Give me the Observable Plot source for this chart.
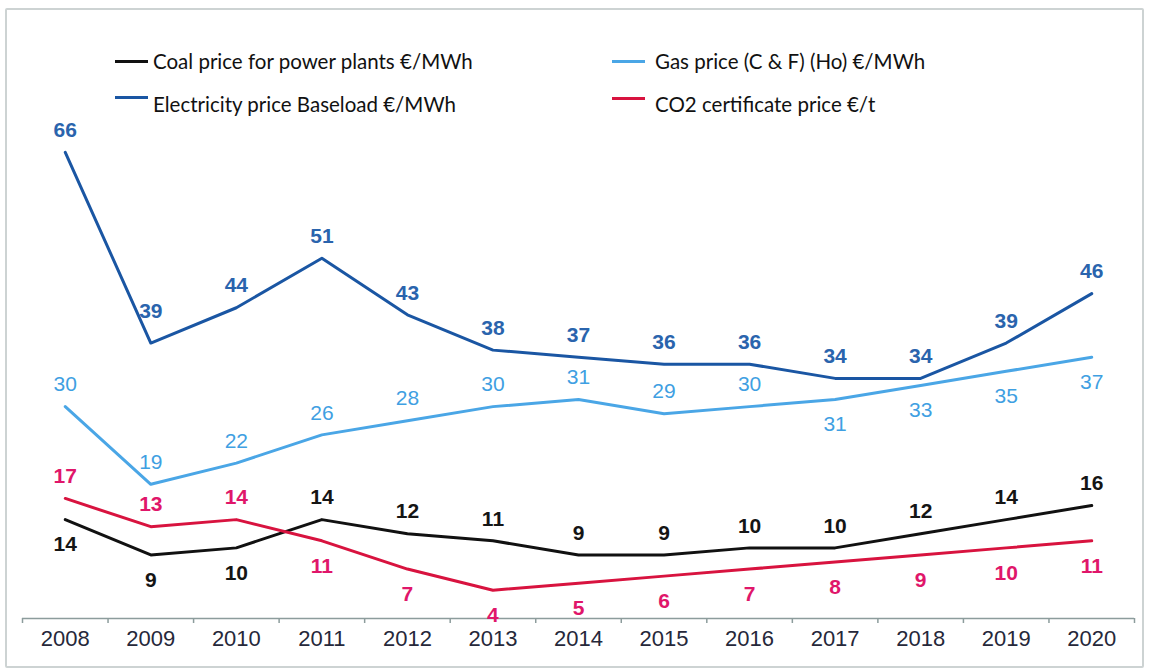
<!DOCTYPE html>
<html>
<head>
<meta charset="utf-8">
<script src="https://cdn.jsdelivr.net/npm/d3@7"></script>
<script src="https://cdn.jsdelivr.net/npm/@observablehq/plot@0.6"></script>
<style>
  html, body { margin: 0; padding: 0; background: #fff; }
  #wrap { position: relative; width: 1171px; height: 670px; overflow: hidden; }
  #frame { position: absolute; left: 5px; top: 8px; width: 1135px; height: 656px;
           border: 2px solid #cdd3d3; border-radius: 2px; box-sizing: content-box; }
  #chart { position: absolute; left: 0; top: 0; }
  .leg { position: absolute; font-family: Lato, "Open Sans", sans-serif; font-size: 20.5px; color: #111;
         white-space: nowrap; line-height: 1; }
  .sw { position: absolute; width: 33px; height: 3px; }
</style>
</head>
<body>
<div id="wrap">
  <div id="frame"></div>
  <div id="chart"></div>
  <div id="legend"></div>
</div>
<script>
const years = [2008, 2009, 2010, 2011, 2012, 2013, 2014, 2015, 2016, 2017, 2018, 2019, 2020];
const seriesNames = [
  "Coal price for power plants €/MWh",
  "Electricity price Baseload €/MWh",
  "Gas price (C & F) (Ho) €/MWh",
  "CO2 certificate price €/t"
];
const coal        = [14, 9, 10, 14, 12, 11, 9, 9, 10, 10, 12, 14, 16];
const electricity = [66, 39, 44, 51, 43, 38, 37, 36, 36, 34, 34, 39, 46];
const gas         = [30, 19, 22, 26, 28, 30, 31, 29, 30, 31, 33, 35, 37];
const co2         = [17, 13, 14, 11, 7, 4, 5, 6, 7, 8, 9, 10, 11];
const lineColors  = ["#111111", "#1a56a3", "#4aa6e6", "#d8133f"];
const labelColors = ["#151515", "#2a64ad", "#3f9fe2", "#e0166a"];
const labelWeights = ["bold", "bold", "normal", "bold"];

const valuesBySeries = [coal, electricity, gas, co2];
const rows = [];
seriesNames.forEach((s, si) => {
  const vals = valuesBySeries[si];
  vals.forEach((v, i) => rows.push({
    series: s, si, year: years[i], value: v,
    vee: i > 0 && i < vals.length - 1 && vals[i - 1] - v > 4 && vals[i + 1] - v > 4
  }));
});

// label placement rule (above/below line)
const isBelow = d =>
  (d.si === 0 && d.year <= 2010) ||
  (d.si === 3 && d.year >= 2011) ||
  (d.si === 2 && d.year >= 2017);

const boundaries = years.map(y => y - 0.5).concat([years[years.length - 1] + 0.5]);

const labelFont = "Liberation Sans, Arial, sans-serif";
const labelMarks = [];
[0, 1, 2, 3].forEach(si => {
  const sub = rows.filter(d => d.si === si);
  const common = {x: "year", y: "value", text: d => String(d.value),
    fill: labelColors[si], fontSize: 21, fontWeight: labelWeights[si], fontFamily: labelFont};
  labelMarks.push(Plot.text(sub.filter(d => !isBelow(d) && !d.vee), {...common, dy: -22}));
  labelMarks.push(Plot.text(sub.filter(d => !isBelow(d) && d.vee), {...common, dy: -32}));
  labelMarks.push(Plot.text(sub.filter(d => isBelow(d)), {...common, dy: 25}));
});

const chart = Plot.plot({
  width: 1171,
  height: 670,
  marginLeft: 22,
  marginRight: 37,
  marginTop: 53,
  marginBottom: 52,
  x: {domain: [years[0] - 0.5, years[years.length - 1] + 0.5], axis: null, label: null},
  y: {domain: [0, 80], axis: null},
  style: {background: "transparent", overflow: "visible"},
  marks: [
    Plot.ruleY([0], {stroke: "#8c9c9c", strokeWidth: 1.5}),
    Plot.axisX(boundaries, {tickSize: 5, tickFormat: () => "", stroke: "#8c9c9c", strokeWidth: 1.5, label: null}),
    Plot.axisX(years, {tickSize: 0, tickPadding: 12, tickFormat: d => String(d), label: null,
      fontSize: 22, fill: "#26283a", fontFamily: labelFont}),
    ...[0, 1, 2, 3].map(si => Plot.line(rows.filter(d => d.si === si), {
      x: "year", y: "value", stroke: lineColors[si], strokeWidth: 3,
      strokeLinejoin: "round", strokeLinecap: "round"
    })),
    ...labelMarks
  ]
});
document.getElementById("chart").appendChild(chart);

// legend (HTML overlay)
const legendPos = [
  {sx: 115, sy: 60, tx: 153, ty: 51},
  {sx: 115, sy: 96, tx: 153, ty: 94},
  {sx: 612, sy: 60, tx: 655, ty: 51},
  {sx: 612, sy: 97, tx: 655, ty: 94}
];
const leg = document.getElementById("legend");
seriesNames.forEach((s, si) => {
  const p = legendPos[si];
  const sw = document.createElement("div");
  sw.className = "sw";
  sw.style.left = p.sx + "px"; sw.style.top = p.sy + "px";
  sw.style.background = lineColors[si];
  leg.appendChild(sw);
  const t = document.createElement("div");
  t.className = "leg";
  t.style.left = p.tx + "px"; t.style.top = p.ty + "px";
  t.textContent = s;
  leg.appendChild(t);
});
</script>
</body>
</html>
